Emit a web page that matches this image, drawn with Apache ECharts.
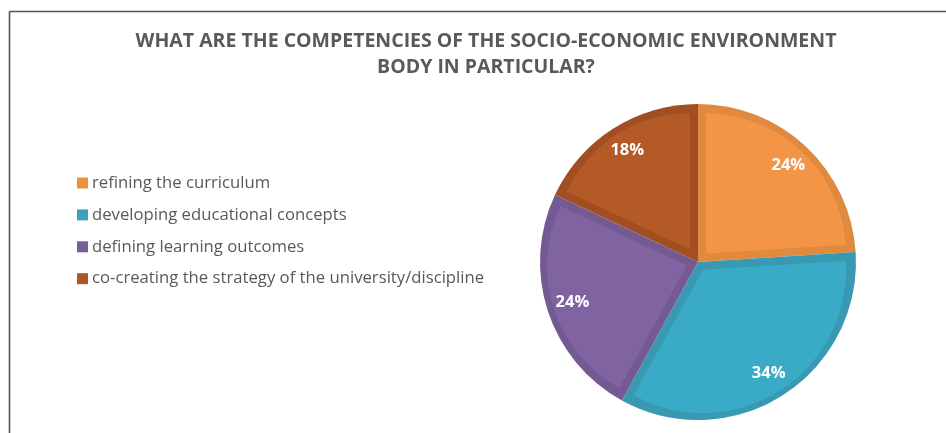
<!DOCTYPE html>
<html>
<head>
<meta charset="utf-8">
<script src="https://cdn.jsdelivr.net/npm/echarts@6/dist/echarts.min.js"></script>
<style>
  html, body { margin: 0; padding: 0; background: #ffffff; }
  #chart { width: 946px; height: 433px; }
</style>
</head>
<body>
<div id="chart"></div>
<script>
// Survey answers and their shares (percent)
const categories = [
  'refining the curriculum',
  'developing educational concepts',
  'defining learning outcomes',
  'co-creating the strategy of the university/discipline'
];
const shares = [24, 34, 24, 18];

// Slice fills, their darker inner rims, and legend swatches
const fillColors = ['#F39546', '#3AABC6', '#8064A2', '#B45A27'];
const rimColors = ['#DF8A3F', '#3A99B2', '#735A93', '#A14F22'];
const swatchColors = ['#EE8E3F', '#3AA2BD', '#7A5E9B', '#AE5625'];

const titleText = 'WHAT ARE THE COMPETENCIES OF THE SOCIO-ECONOMIC ENVIRONMENT\nBODY IN PARTICULAR?';

const CX = 698, CY = 262, R = 158, RIM = 8;

const chart = echarts.init(document.getElementById('chart'), null, { renderer: 'canvas' });

const total = shares.reduce((a, b) => a + b, 0);

// Base pie: the full slices in rim colour
const series = [{
  type: 'pie',
  silent: true,
  startAngle: 90,
  clockwise: true,
  center: [CX, CY],
  radius: [0, R],
  label: { show: false },
  labelLine: { show: false },
  emphasis: { disabled: true },
  itemStyle: { borderWidth: 0 },
  data: categories.map((name, i) => ({ name, value: shares[i], itemStyle: { color: rimColors[i] } }))
}];

// Inner fills: each slice is pushed along its bisector so its straight edges sit RIM px inside
let acc = 0;
shares.forEach((v, i) => {
  const theta = v / total * 2 * Math.PI;
  const mid = Math.PI / 2 - (acc / total * 2 * Math.PI + theta / 2);
  acc += v;
  const half = theta / 2;
  const d = half < Math.PI / 2 ? RIM / Math.sin(half) : RIM;
  const r = R - RIM - d * (1 + Math.cos(Math.min(half, Math.PI / 2))) / 2;
  series.push({
    type: 'pie',
    silent: true,
    startAngle: 90,
    clockwise: true,
    center: [CX + d * Math.cos(mid), CY - d * Math.sin(mid)],
    radius: [0, r],
    label: { show: false },
    labelLine: { show: false },
    emphasis: { disabled: true },
    itemStyle: { borderWidth: 0 },
    data: categories.map((name, j) => ({
      name, value: shares[j],
      itemStyle: { color: j === i ? fillColors[i] : 'rgba(0,0,0,0)' }
    }))
  });
});

// Percentage labels, placed well out toward the rim
series.push({
  type: 'pie',
  silent: true,
  startAngle: 90,
  clockwise: true,
  center: [CX, CY],
  radius: [0, 258],
  itemStyle: { color: 'rgba(0,0,0,0)' },
  emphasis: { disabled: true },
  label: {
    show: true,
    position: 'inside',
    formatter: '{c}%',
    color: '#ffffff',
    fontFamily: 'Open Sans',
    fontWeight: 'bold',
    fontSize: 16.5
  },
  labelLine: { show: false },
  data: categories.map((name, i) => ({ name, value: shares[i] }))
});

chart.setOption({
  animation: false,
  backgroundColor: '#ffffff',
  title: {
    text: titleText,
    left: 481,
    top: 23,
    textAlign: 'center',
    textStyle: {
      fontFamily: 'Open Sans',
      fontWeight: 'bold',
      fontSize: 19.5,
      lineHeight: 26,
      color: '#595959'
    }
  },
  legend: {
    orient: 'vertical',
    left: 77,
    top: 173,
    padding: 0,
    icon: 'rect',
    itemWidth: 11,
    itemHeight: 11,
    itemGap: 11.9,
    selectedMode: false,
    textStyle: {
      fontFamily: 'Open Sans',
      fontSize: 16.7,
      lineHeight: 20,
      color: '#595959',
      padding: [0, 0, 0, -1]
    },
    data: categories.map((name, i) => ({ name, itemStyle: { color: swatchColors[i] } }))
  },
  graphic: [
    { type: 'line', silent: true, shape: { x1: 9.5, y1: 11.5, x2: 946, y2: 11.5 }, style: { stroke: '#555555', lineWidth: 1.6 } },
    { type: 'line', silent: true, shape: { x1: 9.5, y1: 11.5, x2: 9.5, y2: 433 }, style: { stroke: '#555555', lineWidth: 1.6 } }
  ],
  series: series
});
</script>
</body>
</html>
